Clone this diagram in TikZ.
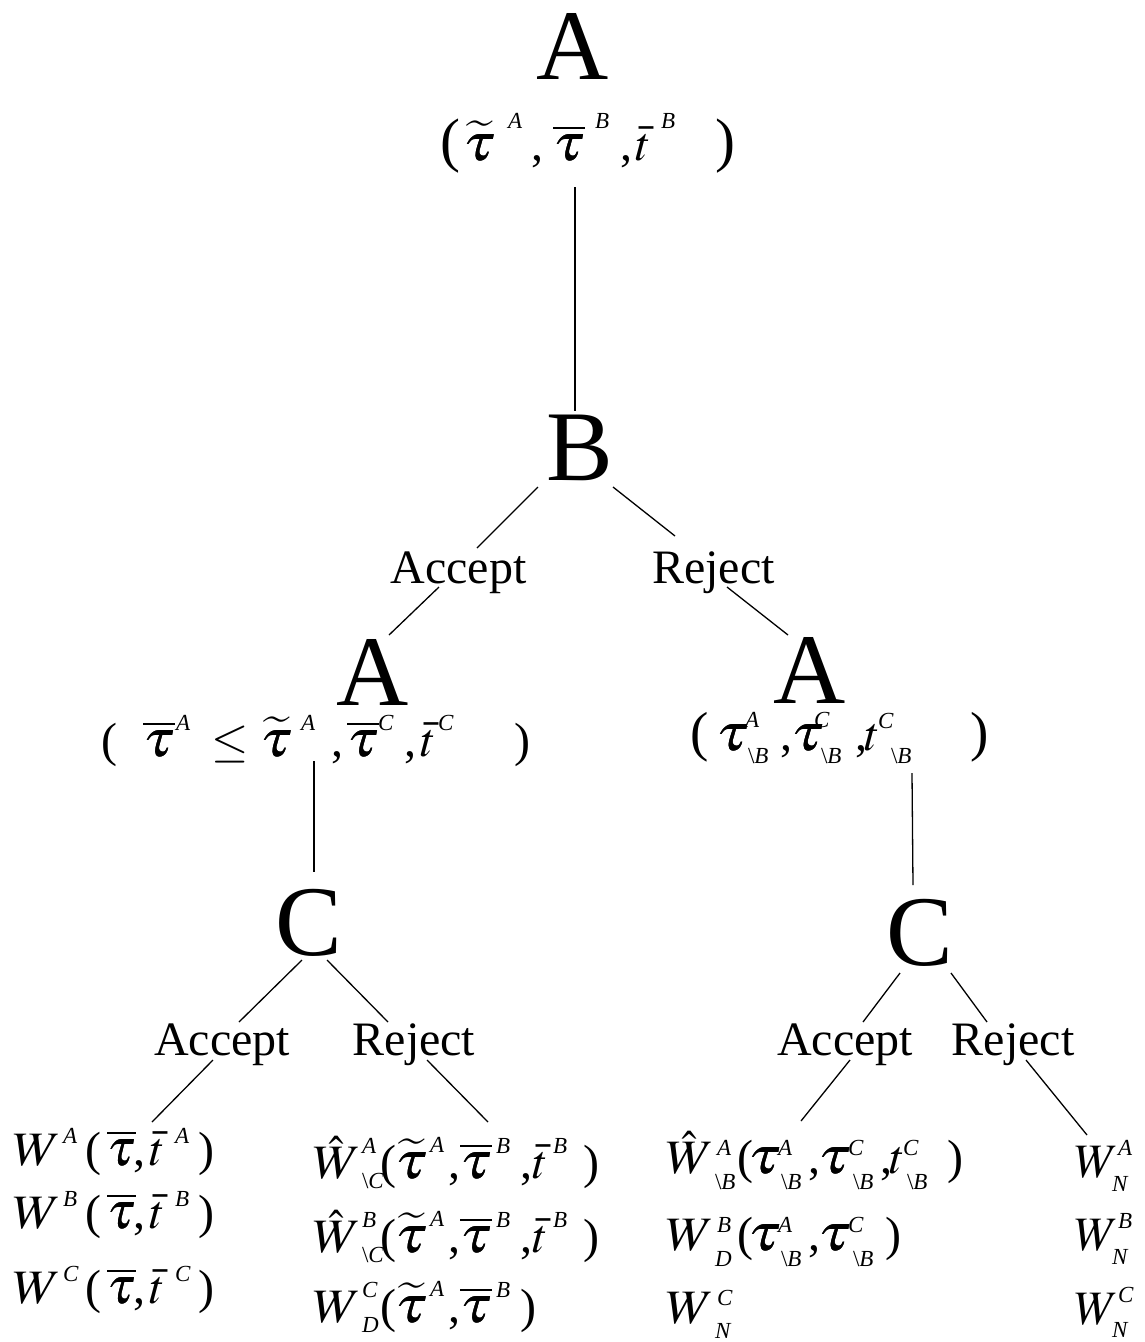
\documentclass[tikz,border=0pt]{standalone}
\usepackage{graphicx}
\usepackage{mathptmx}
\usepackage[no-math]{fontspec}
\setmainfont{Liberation Serif}
\newcommand{\kc}[2]{\makebox[#1pt][l]{#2}}
\newcommand{\tsup}[2]{\raisebox{#1pt}{\fontsize{23}{23}\selectfont\itshape #2}}
\newcommand{\tsub}[2]{\raisebox{-#1pt}{\fontsize{23}{23}\selectfont\textbackslash\itshape #2}}
\newcommand{\tsubp}[2]{\raisebox{-#1pt}{\fontsize{23}{23}\selectfont\itshape #2}}
\newcommand{\stk}[6]{\makebox[#1pt][l]{\rlap{\hspace{#2pt}\tsup{#3}{#4}}\hspace{#5pt}#6}}
\newcommand{\opar}[1]{{\fontsize{#1}{#1}\selectfont(}}
\newcommand{\cpar}[1]{{\fontsize{#1}{#1}\selectfont)}}
\newcommand{\bigletters}{\fontsize{100}{100}\selectfont}
\newcommand{\labletters}{\fontsize{48}{48}\selectfont}
\newcommand{\tauS}[1]{\scalebox{#1}[1.08]{\rlap{$\tau$}\hspace{0.6pt}$\tau$}}
\newcommand{\tauT}{$\widetilde{\hbox{\tauS{1.28}}}$}
\newcommand{\tauB}{$\overline{\hbox{\tauS{1.25}}}$}
\newcommand{\tauBs}{$\overline{\hbox{\tauS{1.12}}}$}
\newcommand{\tauP}{\tauS{1.3}}
\newcommand{\WW}{\scalebox{1.1}[1]{$W$}}
\newcommand{\WH}{$\hat{\hbox{\WW}}$}
\begin{document}
\begin{tikzpicture}[x=1pt,y=-1pt,
  every node/.style={inner sep=0pt,outer sep=0pt},
  player/.style={font=\bigletters,anchor=base},
  choice/.style={font=\labletters,anchor=base},
  formula/.style={font=\labletters,anchor=base west},
  edge/.style={line width=1.3pt,black}]
\useasboundingbox (0,0) rectangle (1144,1342);

% decision nodes
\node[player] (nA1) at (572.5,79) {A};
\node[formula] (lA1) at (440,160) {\kc{23}{\opar{60}}\kc{45}{\tauT}\kc{23}{\tsup{32}{A}}\kc{22}{,}\kc{42}{\tauB}\kc{25}{\tsup{32}{B}}\kc{16}{,}\kc{25}{$\bar{t}$}\kc{54}{\tsup{32}{B}}\cpar{60}};
\node[player] (nB) at (580,480) {B};
\node[choice] (accB) at (458.5,583) {Accept};
\node[choice] (rejB) at (713.5,583) {Reject};
\node[player] (nA2) at (373,705) {A};
\node[formula] (lA2) at (101,756) {\kc{42}{\opar{48}}\kc{33}{\tauB}\kc{35}{\tsup{26}{A}}\kc{49}{$\le$}\kc{41}{\tauT}\kc{30}{\tsup{26}{A}}\kc{16}{,}\kc{31}{\tauB}\kc{27}{\tsup{26}{C}}\kc{16}{,}\kc{17}{$\bar{t}$}\kc{77}{\tsup{26}{C}}\cpar{48}};
\node[player] (nA3) at (810,703) {A};
\node[formula] (lA3) at (690,750) {\kc{26}{\opar{55}}\kc{27}{\tauP}\stk{37}{2}{23}{A}{5}{\tsub{13}{B}}\kc{11}{,}\kc{21}{\tauP}\stk{43}{2}{23}{C}{9}{\tsub{13}{B}}\kc{10}{,}\kc{13}{$t$}\stk{92}{0}{22}{C}{13}{\tsub{13}{B}}\cpar{55}};
\node[player] (nC1) at (308.5,955) {C};
\node[player] (nC2) at (920,965) {C};
\node[choice] (accC1) at (222,1055) {Accept};
\node[choice] (rejC1) at (414,1055) {Reject};
\node[choice] (accC2) at (845,1055) {Accept};
\node[choice] (rejC2) at (1013,1055) {Reject};

% payoffs
\node[formula] (L1) at (13,1165) {\kc{50}{\WW}\kc{22}{\tsup{22}{A}}\kc{22}{(}\kc{26}{\tauBs}\kc{17}{,}\kc{25}{$\bar{t}$}\kc{23}{\tsup{22}{A}})};
\node[formula] (L2) at (13,1228) {\kc{50}{\WW}\kc{22}{\tsup{22}{B}}\kc{22}{(}\kc{26}{\tauBs}\kc{17}{,}\kc{25}{$\bar{t}$}\kc{23}{\tsup{22}{B}})};
\node[formula] (L3) at (13,1303) {\kc{50}{\WW}\kc{22}{\tsup{22}{C}}\kc{22}{(}\kc{26}{\tauBs}\kc{17}{,}\kc{25}{$\bar{t}$}\kc{23}{\tsup{22}{C}})};

\node[formula] (M1) at (313,1178) {\kc{49}{\WH}\stk{18}{0}{25}{A}{0}{\tsub{10}{C}}\kc{15}{(}\kc{35}{\tauT}\kc{18}{\tsup{26}{A}}\kc{12}{,}\kc{36}{\tauB}\kc{24}{\tsup{25}{B}}\kc{13}{,}\kc{20}{$\bar{t}$}\kc{30}{\tsup{25}{B}})};
\node[formula] (M2) at (313,1252) {\kc{49}{\WH}\stk{18}{0}{25}{B}{0}{\tsub{10}{C}}\kc{15}{(}\kc{35}{\tauT}\kc{18}{\tsup{26}{A}}\kc{12}{,}\kc{36}{\tauB}\kc{24}{\tsup{25}{B}}\kc{13}{,}\kc{20}{$\bar{t}$}\kc{30}{\tsup{25}{B}})};
\node[formula] (M3) at (313,1322) {\kc{49}{\WW}\stk{18}{0}{25}{C}{0}{\tsubp{10}{D}}\kc{15}{(}\kc{35}{\tauT}\kc{18}{\tsup{26}{A}}\kc{12}{,}\kc{36}{\tauB}\kc{24}{\tsup{25}{B}})};

\node[formula] (R1) at (666,1173) {\kc{49}{\WH}\stk{22}{2}{18}{A}{0}{\tsub{16}{B}}\kc{11}{(}\kc{30}{\tauP}\stk{30}{0}{18}{A}{3}{\tsub{16}{B}}\kc{10}{,}\kc{30}{\tauP}\stk{32}{0}{18}{C}{5}{\tsub{16}{B}}\kc{10}{,}\kc{13}{$t$}\stk{44}{0}{18}{C}{4}{\tsub{16}{B}})};
\node[formula] (R2) at (666,1250) {\kc{49}{\WW}\stk{22}{2}{18}{B}{0}{\tsubp{16}{D}}\kc{11}{(}\kc{30}{\tauP}\stk{30}{0}{18}{A}{3}{\tsub{16}{B}}\kc{10}{,}\kc{30}{\tauP}\stk{37}{0}{18}{C}{5}{\tsub{16}{B}})};
\node[formula] (R3) at (666,1323) {\kc{49}{\WW}\stk{22}{2}{18}{C}{0}{\tsubp{15}{N}}};

\node[formula] (F1) at (1075,1177) {\kc{37}{$W$}\stk{20}{6}{22}{A}{0}{\tsubp{14}{N}}};
\node[formula] (F2) at (1075,1250) {\kc{37}{$W$}\stk{20}{6}{22}{B}{0}{\tsubp{14}{N}}};
\node[formula] (F3) at (1075,1324) {\kc{37}{$W$}\stk{20}{6}{22}{C}{0}{\tsubp{13}{N}}};

% connectors
\draw[edge] ([shift={(135,27)}]lA1.base west) -- ([shift={(-5,-69)}]nB.base);
\draw[edge] ([shift={(-42,7)}]nB.base) -- ([shift={(18.5,-35)}]accB.base);
\draw[edge] ([shift={(-19.5,4)}]accB.base) -- ([shift={(16,-70)}]nA2.base);
\draw[edge] ([shift={(33,7)}]nB.base) -- ([shift={(-38.5,-47)}]rejB.base);
\draw[edge] ([shift={(13.5,4)}]rejB.base) -- ([shift={(-22,-68)}]nA3.base);
\draw[edge] ([shift={(213,5)}]lA2.base west) -- ([shift={(5.5,-83)}]nC1.base);
\draw[edge] ([shift={(222,23)}]lA3.base west) -- ([shift={(-7,-80)}]nC2.base);
\draw[edge] ([shift={(-6.5,5)}]nC1.base) -- ([shift={(17,-33)}]accC1.base);
\draw[edge] ([shift={(-9,5)}]accC1.base) -- ([shift={(139,-43)}]L1.base west);
\draw[edge] ([shift={(18.5,5)}]nC1.base) -- ([shift={(-26,-33)}]rejC1.base);
\draw[edge] ([shift={(13,5)}]rejC1.base) -- ([shift={(175,-56)}]M1.base west);
\draw[edge] ([shift={(-20,8)}]nC2.base) -- ([shift={(18,-33)}]accC2.base);
\draw[edge] ([shift={(5,5)}]accC2.base) -- ([shift={(135,-52)}]R1.base west);
\draw[edge] ([shift={(31,8)}]nC2.base) -- ([shift={(-26,-33)}]rejC2.base);
\draw[edge] ([shift={(13,5)}]rejC2.base) -- ([shift={(12,-42)}]F1.base west);
\end{tikzpicture}
\end{document}
